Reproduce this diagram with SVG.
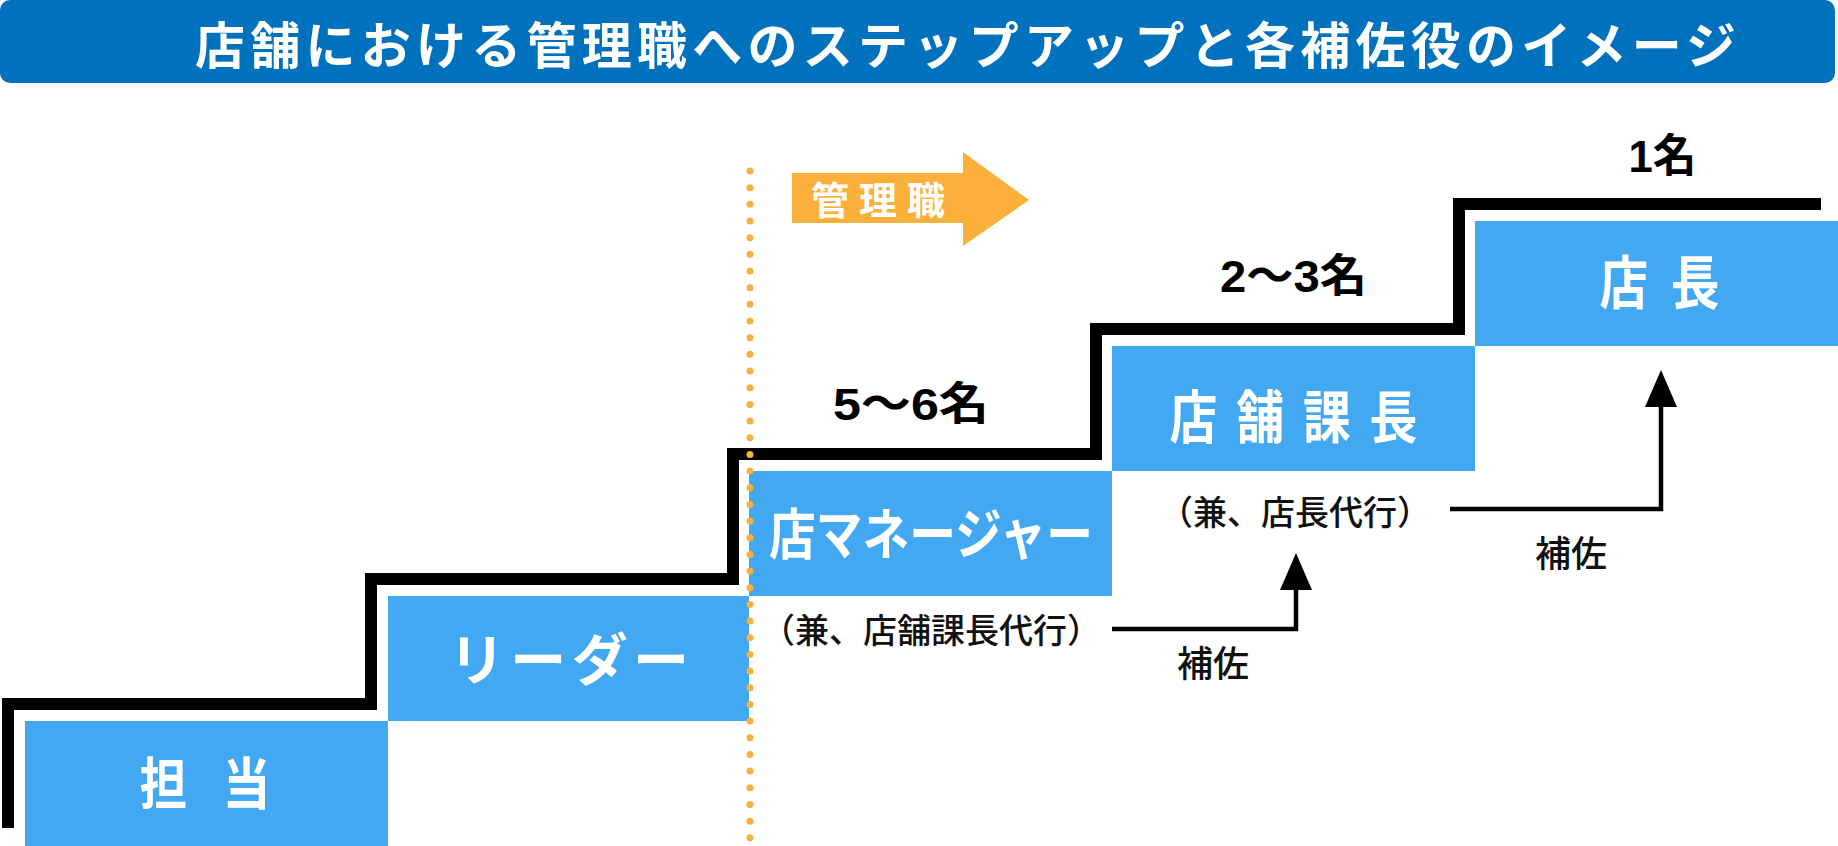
<svg xmlns="http://www.w3.org/2000/svg" width="1838" height="846" viewBox="0 0 1838 846">
<style>
.box{fill:#42A8F1}
.btxt{fill:#FFFFFF;font-family:"Noto Sans CJK JP","Noto Sans CJK SC",sans-serif;font-weight:700;text-anchor:middle}
.num{fill:#000000;font-family:"Liberation Sans","Noto Sans CJK JP",sans-serif;font-weight:700;text-anchor:middle;font-size:45px}
.cap{fill:#111111;font-family:"Noto Sans CJK JP","Noto Sans CJK SC",sans-serif;font-weight:500;text-anchor:middle}
.conn{fill:none;stroke:#000000;stroke-width:4.5;stroke-linejoin:miter}
</style>
<defs>
<marker id="ah" viewBox="0 0 37 32" markerWidth="37" markerHeight="32" refX="27" refY="16" orient="auto" markerUnits="userSpaceOnUse">
<path d="M0,0 L37,16 L0,32 Z" fill="#000000"/>
</marker>
</defs>
<rect width="1838" height="846" fill="#FFFFFF"/>
<g id="header">
<rect x="0" y="0" width="1835" height="83" rx="10" fill="#0071BC"/>
<text x="195" y="64" font-family="'Noto Sans CJK JP','Noto Sans CJK SC',sans-serif" font-weight="700" font-size="50" fill="#FFFFFF" textLength="1541" lengthAdjust="spacing">店舗における管理職へのステップアップと各補佐役のイメージ</text>
</g>
<g id="stairs">
<path d="M8,828 V704 H371 V579 H733 V454 H1096 V329 H1459 V204 H1821" fill="none" stroke="#000000" stroke-width="12" stroke-linejoin="miter" stroke-miterlimit="10"/>
</g>
<g id="node-tanto">
<rect class="box" x="25" y="721" width="363" height="125"/>
<text class="btxt" font-size="56" transform="translate(205,804) scale(0.85,1)" x="0" y="0" textLength="154" lengthAdjust="spacing">担当</text>
</g>
<g id="node-leader">
<rect class="box" x="388" y="596" width="361" height="125"/>
<text class="btxt" font-size="56" x="569" y="680" textLength="240" lengthAdjust="spacing">リーダー</text>
</g>
<g id="node-manager">
<rect class="box" x="749" y="471" width="363" height="125"/>
<text class="btxt" font-size="55" transform="translate(931,554) scale(0.85,1)" x="0" y="0">店マネージャー</text>
<text class="cap" font-size="34" x="931" y="643">（兼、店舗課長代行）</text>
</g>
<g id="node-kacho">
<rect class="box" x="1112" y="346" width="363" height="125"/>
<text class="btxt" font-size="57" transform="translate(1293.5,438) scale(0.84,1)" x="0" y="0" textLength="295" lengthAdjust="spacing">店舗課長</text>
<text class="cap" font-size="34" x="1295" y="525">（兼、店長代行）</text>
</g>
<g id="node-tencho">
<rect class="box" x="1475" y="221" width="363" height="125"/>
<text class="btxt" font-size="58" transform="translate(1659.5,304) scale(0.84,1)" x="0" y="0" textLength="143" lengthAdjust="spacing">店長</text>
</g>
<g id="counts">
<text class="num" x="911" y="420" textLength="156" lengthAdjust="spacingAndGlyphs">5〜6名</text>
<text class="num" x="1293.5" y="292" textLength="147" lengthAdjust="spacingAndGlyphs">2〜3名</text>
<text class="num" x="1662.5" y="172" textLength="68" lengthAdjust="spacingAndGlyphs">1名</text>
</g>
<g id="kanrishoku">
<polygon points="792,173 963,173 963,152 1029,200 963,246 963,223 792,223" fill="#FBB03B"/>
<text x="878" y="214" font-family="'Noto Sans CJK JP','Noto Sans CJK SC',sans-serif" font-weight="700" font-size="38" fill="#FFFFFF" text-anchor="middle" textLength="134" lengthAdjust="spacing">管理職</text>
</g>
<g id="connectors">
<path class="conn" d="M1112,629 H1296 V563" marker-end="url(#ah)"/>
<path class="conn" d="M1450,509 H1661 V380" marker-end="url(#ah)"/>
<text class="cap" font-size="36" x="1213" y="677">補佐</text>
<text class="cap" font-size="36" x="1571" y="567">補佐</text>
</g>
<g id="divider">
<line x1="750" y1="171" x2="750" y2="846" stroke="#FBB03B" stroke-width="7" stroke-linecap="round" stroke-dasharray="0 16.67"/>
</g>
</svg>
